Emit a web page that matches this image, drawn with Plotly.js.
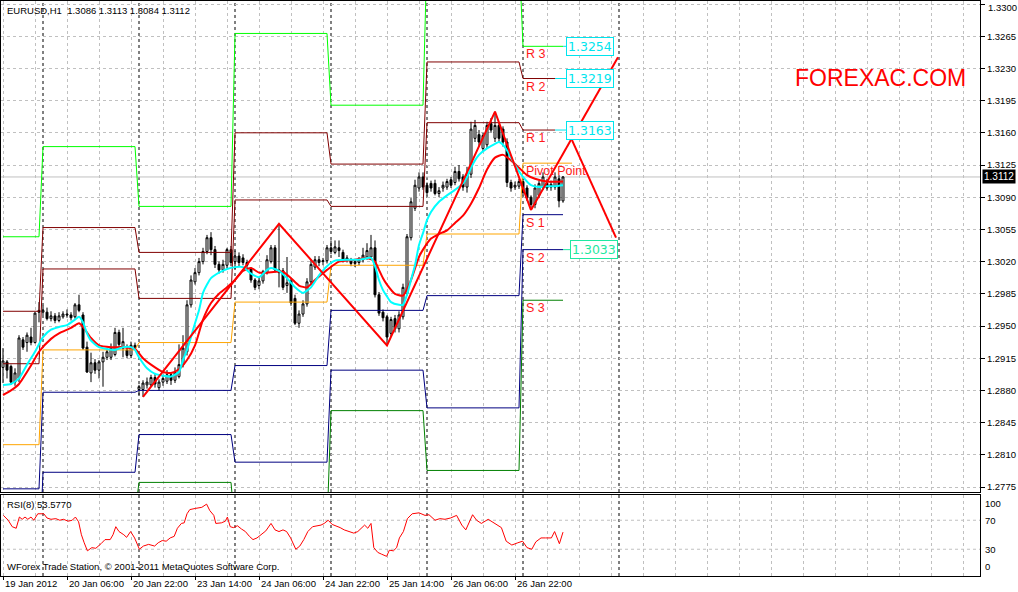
<!DOCTYPE html>
<html><head><meta charset="utf-8">
<script src="https://cdn.plot.ly/plotly-3.0.1.min.js"></script>
<style>html,body{margin:0;padding:0;background:#fff;}#chart{width:1018px;height:592px;}</style>
</head><body><div id="chart"></div>
<script>
// ---------- DATA (EURUSD H1, bars indexed from 19 Jan 2012 14:00) ----------
const open = [1.2905,1.2911,1.2906,1.2889,1.2893,1.2935,1.2932,1.2938,1.2932,1.2967,1.2965,1.2965,1.2958,1.2961,1.2956,1.2960,1.2963,1.2962,1.2960,1.2973,1.2962,1.2927,1.2899,1.2910,1.2902,1.2911,1.2916,1.2916,1.2919,1.2943,1.2926,1.2924,1.2918,1.2929,1.2881,1.2881,1.2886,1.2886,1.2894,1.2883,1.2889,1.2890,1.2897,1.2891,1.2895,1.2908,1.2922,1.2973,1.2998,1.3008,1.3020,1.3031,1.3046,1.3033,1.3017,1.3011,1.3016,1.3033,1.3020,1.3026,1.3024,1.3019,1.3012,1.3000,1.2994,1.2999,1.3008,1.3020,1.3035,1.3011,1.3010,1.2994,1.2999,1.2980,1.2953,1.2963,1.2974,1.2998,1.3014,1.3022,1.3020,1.3021,1.3035,1.3030,1.3035,1.3030,1.3022,1.3021,1.3018,1.3019,1.3022,1.3025,1.3025,1.3035,1.2984,1.2965,1.2960,1.2942,1.2958,1.2947,1.2960,1.2985,1.3046,1.3078,1.3100,1.3112,1.3103,1.3105,1.3105,1.3094,1.3100,1.3101,1.3109,1.3106,1.3118,1.3112,1.3101,1.3115,1.3154,1.3158,1.3143,1.3147,1.3170,1.3154,1.3168,1.3164,1.3150,1.3106,1.3101,1.3102,1.3107,1.3100,1.3090,1.3082,1.3092,1.3101,1.3105,1.3101,1.3101,1.3110,1.3086];
const high = [1.2926,1.2913,1.2908,1.2904,1.2940,1.2938,1.2943,1.2948,1.2965,1.2976,1.2972,1.2970,1.2966,1.2964,1.2965,1.2966,1.2968,1.2965,1.2975,1.2984,1.2965,1.2933,1.2921,1.2914,1.2913,1.2922,1.2926,1.2931,1.2948,1.2946,1.2948,1.2930,1.2933,1.2932,1.2886,1.2891,1.2894,1.2897,1.2899,1.2892,1.2897,1.2902,1.2899,1.2905,1.2930,1.2940,1.2978,1.3005,1.3013,1.3024,1.3035,1.3049,1.3052,1.3037,1.3020,1.3022,1.3035,1.3037,1.3032,1.3030,1.3028,1.3022,1.3014,1.3002,1.3003,1.3011,1.3027,1.3038,1.3038,1.3061,1.3013,1.3025,1.3002,1.2984,1.2967,1.2978,1.3002,1.3022,1.3026,1.3026,1.3024,1.3038,1.3043,1.3043,1.3043,1.3033,1.3027,1.3024,1.3023,1.3025,1.3035,1.3040,1.3049,1.3043,1.2987,1.2968,1.2962,1.2960,1.2962,1.2966,1.2996,1.3050,1.3089,1.3109,1.3117,1.3117,1.3106,1.3108,1.3109,1.3101,1.3107,1.3110,1.3112,1.3123,1.3125,1.3115,1.3123,1.3172,1.3174,1.3163,1.3160,1.3172,1.3176,1.3183,1.3171,1.3167,1.3154,1.3109,1.3107,1.3110,1.3110,1.3103,1.3092,1.3104,1.3108,1.3117,1.3110,1.3108,1.3117,1.3114,1.3113];
const low = [1.2888,1.2893,1.2886,1.2885,1.2889,1.2924,1.2922,1.2929,1.2931,1.2954,1.2962,1.2956,1.2955,1.2953,1.2954,1.2958,1.2959,1.2956,1.2958,1.2965,1.2924,1.2899,1.2889,1.2898,1.2893,1.2884,1.2913,1.2913,1.2917,1.2927,1.2916,1.2915,1.2915,1.2924,1.2875,1.2873,1.2882,1.2884,1.2883,1.2880,1.2885,1.2887,1.2886,1.2888,1.2893,1.2905,1.2918,1.2970,1.2995,1.3005,1.3017,1.3028,1.3027,1.3013,1.3007,1.3008,1.3013,1.3015,1.3012,1.3015,1.3016,1.3012,1.2997,1.2989,1.2990,1.2996,1.3006,1.3018,1.3008,1.2992,1.2989,1.2986,1.2972,1.2951,1.2948,1.2960,1.2971,1.2995,1.3011,1.3015,1.3016,1.3018,1.3028,1.3028,1.3025,1.3019,1.3019,1.3015,1.3014,1.3016,1.3019,1.3022,1.3022,1.2981,1.2961,1.2955,1.2929,1.2938,1.2943,1.2943,1.2957,1.2983,1.3043,1.3075,1.3096,1.3098,1.3092,1.3096,1.3092,1.3090,1.3096,1.3098,1.3100,1.3103,1.3107,1.3097,1.3095,1.3111,1.3150,1.3145,1.3140,1.3143,1.3160,1.3150,1.3150,1.3145,1.3101,1.3096,1.3098,1.3099,1.3092,1.3086,1.3076,1.3078,1.3089,1.3098,1.3097,1.3097,1.3098,1.3079,1.3084];
const close = [1.2912,1.2902,1.2889,1.2899,1.2937,1.2927,1.2940,1.2932,1.2964,1.2965,1.2967,1.2958,1.2961,1.2956,1.2961,1.2963,1.2962,1.2959,1.2973,1.2967,1.2926,1.2900,1.2910,1.2902,1.2911,1.2916,1.2922,1.2926,1.2943,1.2930,1.2933,1.2918,1.2929,1.2927,1.2884,1.2888,1.2889,1.2894,1.2887,1.2889,1.2893,1.2897,1.2891,1.2900,1.2908,1.2926,1.2973,1.3000,1.3008,1.3020,1.3031,1.3046,1.3033,1.3017,1.3011,1.3017,1.3033,1.3019,1.3026,1.3019,1.3019,1.3016,1.3000,1.2992,1.2999,1.3009,1.3022,1.3035,1.3011,1.3008,1.2992,1.2997,1.2975,1.2953,1.2963,1.2974,1.2998,1.3017,1.3022,1.3019,1.3021,1.3035,1.3031,1.3036,1.3032,1.3022,1.3024,1.3018,1.3020,1.3022,1.3027,1.3032,1.3035,1.2984,1.2964,1.2959,1.2938,1.2957,1.2947,1.2962,1.2992,1.3047,1.3085,1.3103,1.3112,1.3101,1.3095,1.3100,1.3094,1.3097,1.3103,1.3107,1.3103,1.3118,1.3110,1.3101,1.3115,1.3164,1.3168,1.3150,1.3157,1.3168,1.3163,1.3168,1.3154,1.3150,1.3106,1.3100,1.3103,1.3107,1.3095,1.3089,1.3082,1.3100,1.3105,1.3112,1.3100,1.3104,1.3112,1.3086,1.3112];

// moving averages (read at sample bars)
const maFastBars = [0,2,4,6,8,10,12,14,16,18,19,20,21,22,24,26,28,30,32,33,34,36,38,40,42,44,45,46,47,48,49,50,51,52,54,56,58,60,62,64,66,67,69,71,73,75,77,79,81,83,86,89,92,93,94,95,96,97,99,100,101,102,103,104,105,106,107,109,111,113,115,116,117,118,119,121,123,124,125,126,127,128,130,132,134,136,138,140];
const maFastVals = [1.2886,1.2887,1.2893,1.2908,1.2922,1.2938,1.2946,1.2949,1.2951,1.2957,1.2960,1.2954,1.2942,1.2934,1.2927,1.2925,1.2924,1.2927,1.2927,1.2924,1.2916,1.2904,1.2898,1.2896,1.2895,1.2900,1.2913,1.2924,1.2938,1.2953,1.2967,1.2986,1.2995,1.3002,1.3008,1.3012,1.3014,1.3014,1.3007,1.3003,1.3011,1.3013,1.3010,1.3002,1.2992,1.2986,1.2992,1.3005,1.3015,1.3021,1.3022,1.3022,1.3024,1.3015,1.3000,1.2989,1.2982,1.2976,1.2973,1.2973,1.2984,1.3000,1.3016,1.3038,1.3051,1.3065,1.3074,1.3085,1.3092,1.3098,1.3105,1.3112,1.3122,1.3130,1.3136,1.3143,1.3148,1.3150,1.3147,1.3141,1.3133,1.3125,1.3112,1.3103,1.3101,1.3102,1.3102,1.3103];
const maSlowBars = [0,2,4,7,9,12,14,17,19,20,22,24,27,30,33,35,37,40,42,44,46,48,50,52,54,56,58,60,62,64,66,68,70,72,74,76,78,81,84,88,91,93,94,95,96,98,100,102,104,105,107,109,111,113,115,117,119,121,123,125,127,129,131,133,136,140];
const maSlowVals = [1.2875,1.2880,1.2887,1.2907,1.2922,1.2936,1.2942,1.2948,1.2953,1.2949,1.2937,1.2929,1.2927,1.2927,1.2925,1.2915,1.2908,1.2900,1.2899,1.2903,1.2913,1.2929,1.2957,1.2975,1.2985,1.2992,1.3000,1.3010,1.3013,1.3008,1.3008,1.3009,1.3009,1.3002,1.2994,1.2992,1.3000,1.3011,1.3020,1.3022,1.3024,1.3020,1.3011,1.3002,1.2995,1.2985,1.2983,1.3000,1.3025,1.3033,1.3045,1.3050,1.3054,1.3062,1.3070,1.3083,1.3100,1.3120,1.3133,1.3136,1.3130,1.3122,1.3114,1.3110,1.3107,1.3107];

// zigzag vertices and its forward projection
const zzBars = [35,69,96,123,132];
const zzVals = [1.2873,1.3061,1.2929,1.3183,1.3076];
const zzUpBars = [132,153.75];
const zzUpVals = [1.3076,1.3242];
const zzDnBars = [142.25,153.25];
const zzDnVals = [1.3152,1.3046];

// daily pivot levels (19 Jan .. 27 Jan)
const dayStart = [0,10,34,58,82,106,130];
const dayEnd   = [9,33,57,81,105,129,140];
const R3 = [1.3047,1.3145,1.3080,1.3268,1.3190,1.3357,1.3254];
const R2 = [1.2966,1.3057,1.3030,1.3160,1.3126,1.3237,1.3219];
const R1 = [1.2909,1.3012,1.2980,1.3087,1.3080,1.3171,1.3163];
const PP = [1.2821,1.2924,1.2932,1.2976,1.3016,1.3050,1.3127];
const S1 = [1.2773,1.2878,1.2880,1.2907,1.2967,1.2983,1.3071];
const S2 = [1.2685,1.2791,1.2832,1.2802,1.2902,1.2861,1.3033];
const S3 = [1.2597,1.2746,1.2780,1.2731,1.2858,1.2793,1.2978];

// RSI(8)
const rsiBars = [0.1,1.3,2.3,3.3,4.1,4.8,5.5,6.2,7.0,7.7,8.7,10.2,11.0,12.0,13.2,14.2,15.1,16.3,17.3,18.1,18.9,19.6,20.3,21.1,22.2,23.2,24.5,25.5,26.8,27.5,28.2,29.0,30.2,30.9,31.9,32.9,34.1,35.1,36.4,37.9,38.8,39.8,40.8,41.8,42.8,43.6,44.6,45.3,46.0,46.7,48.2,49.7,50.9,51.7,52.7,53.2,54.6,55.6,56.1,56.8,57.6,58.6,59.6,60.6,61.6,62.5,63.5,64.5,65.7,67.0,68.0,69.0,70.0,70.9,71.9,73.2,74.2,75.2,76.2,77.4,78.4,79.5,80.3,81.3,82.3,83.3,84.3,85.3,86.3,87.7,88.7,89.7,90.4,91.2,92.0,92.7,93.7,94.6,95.9,96.6,97.6,98.4,99.1,100.1,101.1,102.3,104.0,105.5,106.5,108.0,109.2,110.5,111.9,113.4,114.7,115.7,116.7,117.4,118.4,119.6,121.3,122.8,124.6,125.8,127.2,128.7,129.9,131.0,132.2,133.2,134.5,135.6,137.1,137.9,139.1,140];
const rsiVals = [76.7,70,61.1,58.9,74.4,71.3,74.4,71.3,74.4,70,78.9,78.9,73.1,71.3,72.2,70,71.3,68.7,70,74.4,67.8,50,38.9,27.8,32.2,31.3,37.6,43.3,43.3,50,61.1,54.4,50,46.4,54.4,45.6,30,34.4,36.7,34.4,38.9,42,41.1,45.6,47.8,58.9,65.6,66.4,78.9,84.7,86.4,87.8,92.2,83.3,76.7,65.6,66.4,68.7,74.4,61.1,59.8,62.4,58,54.4,47.8,43.3,45.6,50,55.3,65.6,56.7,54.4,56.7,54.4,45.6,30,34.4,43.3,54.4,61.1,62.4,63.3,65.6,70,64.2,62.4,59.8,56.7,54.4,52.2,54.4,58.9,63.3,58.9,65.6,32.2,25.6,23.3,20.2,28.7,27.8,32.2,45.6,54.4,72.2,78.9,80.2,76.7,77.6,70,72.2,71.3,73.1,76.7,63.3,56.7,67.8,77.6,70,65.6,71.3,65.6,59.8,41.1,35.8,38.9,41.1,32.2,30,40.2,45.6,45.6,45.6,54.4,37.6,53.577];
const rsiLevels = [30,70];
const rsiTicks = [0,30,70,100];

const priceTicks = [1.2775,1.2810,1.2845,1.2880,1.2915,1.2950,1.2985,1.3020,1.3055,1.3090,1.3125,1.3160,1.3195,1.3230,1.3265,1.3300];
const separators = [10,34,58,82,106,130,154];
const labelBars = [0,16,32,48,64,80,96,112,128];
const labelText = ['19 Jan 2012','20 Jan 06:00','20 Jan 22:00','23 Jan 14:00','24 Jan 06:00','24 Jan 22:00','25 Jan 14:00','26 Jan 06:00','26 Jan 22:00'];
const symbol = 'EURUSD,H1';
const lastPrice = close[close.length-1];

// ---------- BUILD ----------
const bars = close.map((_, i) => i);
const FONT = 'Liberation Sans, Arial, sans-serif';
const C = {R3:'#00ff00', R:'#800000', P:'#ffa500', S:'#000080', S3:'#008000', aqua:'#00e5ee', mint:'#1fe8a0', red:'#ff0000'};

function stepLine(levels, color, lastEnd) {
  const xs = [], ys = [];
  levels.forEach((v, d) => {
    xs.push(dayStart[d], d === levels.length-1 ? lastEnd : dayEnd[d]);
    ys.push(v, v);
  });
  return {type:'scatter', mode:'lines', x:xs, y:ys, xaxis:'x', yaxis:'y',
          line:{color:color, width:1}, hoverinfo:'skip'};
}

const traces = [
  stepLine(R3, C.R3, 140), stepLine(R2, C.R, 138), stepLine(R1, C.R, 138),
  stepLine(PP, C.P, 142.25), stepLine(S1, C.S, 140), stepLine(S2, C.S, 140), stepLine(S3, C.S3, 140),
  {type:'candlestick', x:bars, open:open, high:high, low:low, close:close, xaxis:'x', yaxis:'y',
   increasing:{line:{color:'#000', width:1}, fillcolor:'#ffffff'},
   decreasing:{line:{color:'#000', width:1}, fillcolor:'#000000'},
   whiskerwidth:0, hoverinfo:'skip'},
  {type:'scatter', mode:'lines', x:maSlowBars, y:maSlowVals, line:{color:C.red, width:2, shape:'spline', smoothing:0.6}, hoverinfo:'skip'},
  {type:'scatter', mode:'lines', x:maFastBars, y:maFastVals, line:{color:'#00ffff', width:2, shape:'spline', smoothing:0.6}, hoverinfo:'skip'},
  {type:'scatter', mode:'lines', x:zzBars, y:zzVals, line:{color:C.red, width:2}, hoverinfo:'skip'},
  {type:'scatter', mode:'lines', x:zzUpBars, y:zzUpVals, line:{color:C.red, width:2}, hoverinfo:'skip'},
  {type:'scatter', mode:'lines', x:zzDnBars, y:zzDnVals, line:{color:C.red, width:2}, hoverinfo:'skip'},
  {type:'scatter', mode:'lines', x:rsiBars, y:rsiVals, xaxis:'x2', yaxis:'y2', line:{color:C.red, width:1}, hoverinfo:'skip'}
];

const last = R3.length - 1;
const shapes = [];
separators.forEach(b => {
  ['y domain','y2 domain'].forEach(yr => shapes.push({type:'line', xref:'x', yref:yr, x0:b, x1:b, y0:0, y1:1,
    line:{color:'#000', width:1, dash:'3px,3px'}, layer:'below'}));
});
shapes.push({type:'line', xref:'x domain', yref:'y', x0:0, x1:1, y0:lastPrice, y1:lastPrice, line:{color:'#c0c0c0', width:1}, layer:'below'});
rsiLevels.forEach(v => shapes.push({type:'line', xref:'x domain', yref:'y2', x0:0, x1:1, y0:v, y1:v,
  line:{color:'#c0c0c0', width:1, dash:'3px,3px'}, layer:'below'}));
// connector stubs to the price boxes
[[R3[last],140,140.75,C.aqua],[R2[last],138,140.75,C.aqua],[R1[last],138,140.75,C.aqua],[S2[last],140,141.75,C.mint]].forEach(s =>
  shapes.push({type:'line', xref:'x', yref:'y', x0:s[1], x1:s[2], y0:s[0], y1:s[0], line:{color:s[3], width:1}}));

const ann = [];
const small = {family:FONT, size:9.5, color:'#000'};
ann.push({xref:'paper', yref:'paper', x:0.004, y:0.9843, xanchor:'left', yanchor:'middle', showarrow:false,
  text:symbol + '\u00a0\u00a0' + [open[140], high[140], low[140], close[140]].map(v=>v.toFixed(4)).join(' '), font:small});
ann.push({xref:'paper', yref:'paper', x:0.004, y:0.1252, xanchor:'left', yanchor:'middle', showarrow:false,
  text:'RSI(8) ' + rsiVals[rsiVals.length-1].toFixed(4), font:small});
ann.push({xref:'paper', yref:'paper', x:0.004, y:0.0157, xanchor:'left', yanchor:'middle', showarrow:false,
  text:'WForex Trade Station, © 2001-2011 MetaQuotes Software Corp.', font:small});
ann.push({xref:'paper', yref:'paper', x:0.8979, y:0.8661, xanchor:'center', yanchor:'middle', showarrow:false,
  text:'FOREXAC.COM', font:{family:FONT, size:23, color:'#ff0000'}});
labelBars.forEach((b, i) => ann.push({xref:'x', yref:'paper', x:b, y:-0.0122, xanchor:'left', yanchor:'middle',
  showarrow:false, text:labelText[i], font:small}));
// top price label, kept just inside the picture
const topTick = priceTicks[priceTicks.length-1];
ann.push({xref:'paper', yref:'y', x:1, xshift:6, y:topTick, yshift:-3, xanchor:'left', yanchor:'middle', showarrow:false,
  text:topTick.toFixed(4), font:small});
// RSI scale labels (MT4 pulls the 0/100 labels inside the panel)
rsiTicks.forEach(v => ann.push({xref:'paper', yref:'y2', x:1, xshift:3, y:v, yshift: v === 100 ? -5 : (v === 0 ? 4 : 0),
  xanchor:'left', yanchor:'middle', showarrow:false, text:String(v), font:small}));
// current price box on the axis
ann.push({xref:'paper', yref:'y', x:1, xshift:2, y:lastPrice, xanchor:'left', yanchor:'middle', showarrow:false,
  text:lastPrice.toFixed(4), font:{family:FONT, size:10, color:'#fff'}, bgcolor:'#000', borderpad:1});
// pivot labels
const pl = {family:FONT, size:12.5, color:'#ff1a1a'};
[['R 3',R3[last]],['R 2',R2[last]],['R 1',R1[last]],['Pivot Point',PP[last]],['S 1',S1[last]],['S 2',S2[last]],['S 3',S3[last]]].forEach(p =>
  ann.push({xref:'x', yref:'y', x:130.2, y:p[1], yshift:1, xanchor:'left', yanchor:'top', showarrow:false, text:p[0], font:pl}));
// price boxes
[[R3[last],140.75,C.aqua],[R2[last],140.75,C.aqua],[R1[last],140.75,C.aqua],[S2[last],141.75,C.mint]].forEach(b =>
  ann.push({xref:'x', yref:'y', x:b[1], y:b[0], xanchor:'left', yanchor:'middle', showarrow:false,
    text:b[0].toFixed(4), font:{family:'DejaVu Sans, sans-serif', size:12.5, color:b[2]},
    bgcolor:'#fff', bordercolor:b[2], borderwidth:1, borderpad:1}));

const grid = {gridcolor:'#c0c0c0', griddash:'3px,3px', gridwidth:1};
const layout = {
  width:1018, height:592, margin:{l:1, r:38, t:1, b:16, pad:0},
  paper_bgcolor:'#fff', plot_bgcolor:'#fff', showlegend:false,
  xaxis:Object.assign({domain:[0,1], range:[-0.5,244.25], anchor:'y', showline:true, mirror:true, linecolor:'#000', linewidth:1,
    showgrid:true, tick0:0, dtick:8, ticks:'', showticklabels:false, zeroline:false, rangeslider:{visible:false}, fixedrange:true}, grid),
  yaxis:Object.assign({domain:[0.14609,1], range:[1.276957,1.330326], anchor:'x', side:'right', showline:true, mirror:true,
    linecolor:'#000', linewidth:1, ticks:'outside', ticklen:4, tickcolor:'#000', tickmode:'array', tickvals:priceTicks,
    ticktext:priceTicks.map((v, i) => i === priceTicks.length-1 ? '' : v.toFixed(4)),
    tickfont:{family:FONT, size:9.5, color:'#000'}, showgrid:true, zeroline:false, fixedrange:true}, grid),
  xaxis2:{domain:[0,1], matches:'x', anchor:'y2', showline:true, mirror:true, linecolor:'#000', linewidth:1,
    tickmode:'array', tickvals:labelBars, ticktext:labelBars.map(()=>''), ticks:'outside', ticklen:3, tickcolor:'#000',
    showgrid:true, gridcolor:'#c0c0c0', griddash:'3px,3px', zeroline:false,
    minor:{tick0:0, dtick:8, showgrid:true, gridcolor:'#c0c0c0', griddash:'3px,3px', ticks:''}},
  yaxis2:{domain:[0,0.14087], range:[-6.9,104.8], anchor:'x2', side:'right', showline:true, mirror:true, linecolor:'#000', linewidth:1,
    showticklabels:false, ticks:'', showgrid:false, zeroline:false},
  shapes:shapes, annotations:ann
};
Plotly.newPlot('chart', traces, layout, {staticPlot:true, displayModeBar:false});
</script></body></html>
